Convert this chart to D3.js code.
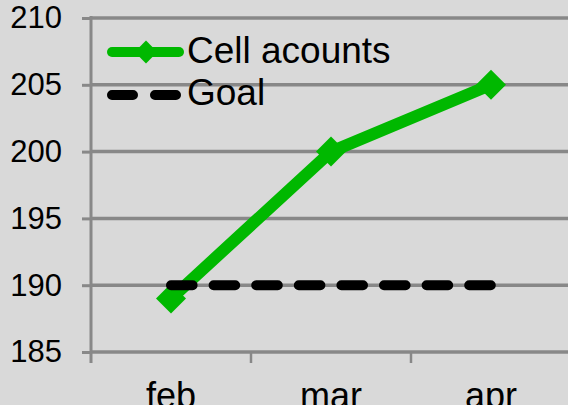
<!DOCTYPE html>
<html><head><meta charset="utf-8">
<script src="https://cdn.jsdelivr.net/npm/d3@7"></script>
<style>body{margin:0;background:#d9d9d9;}svg{display:block;}</style>
</head><body>
<script>
const categories = ["feb", "mar", "apr"];
const cellAccounts = [189, 200, 205];
const goal = [190, 190, 190];
const yTicks = [185, 190, 195, 200, 205, 210];
const seriesNames = ["Cell acounts", "Goal"];

(function () {
const W = 568, H = 405;
const svg = d3.select("body").append("svg").attr("width", W).attr("height", H)
  .style("font-family", "'Liberation Sans', Arial, sans-serif");
svg.append("rect").attr("width", W).attr("height", H).attr("fill", "#d9d9d9");

const pL = 91, pR = 571, pT = 18, pB = 352;
const x = d3.scaleBand().domain(categories).range([pL, pR]);
const y = d3.scaleLinear().domain([185, 210]).range([pB, pT]);
const gridCol = "#888888";

// gridlines
svg.append("g").selectAll("line").data(yTicks).join("line")
  .attr("x1", pL).attr("x2", W).attr("y1", d => y(d)).attr("y2", d => y(d))
  .attr("stroke", gridCol).attr("stroke-width", 3.5);

// y axis
const yAxis = svg.append("g").attr("transform", `translate(${pL},0)`)
  .call(d3.axisLeft(y).tickValues(yTicks).tickSize(9).tickPadding(20).tickFormat(d3.format("d")));
yAxis.select(".domain").remove();
yAxis.selectAll(".tick line").attr("stroke", gridCol).attr("stroke-width", 3);
yAxis.selectAll("text").attr("font-size", 31).attr("fill", "#000").attr("font-family", "'Liberation Sans', Arial, sans-serif");
svg.append("line").attr("x1", pL).attr("x2", pL).attr("y1", pT - 2).attr("y2", pB + 11)
  .attr("stroke", gridCol).attr("stroke-width", 3);

// x axis ticks at band boundaries
const bounds = categories.map(c => x(c)).concat([x(categories[categories.length - 1]) + x.bandwidth()]);
svg.append("g").selectAll("line").data(bounds.slice(1)).join("line")
  .attr("x1", d => d).attr("x2", d => d).attr("y1", pB).attr("y2", pB + 11)
  .attr("stroke", gridCol).attr("stroke-width", 2.5);
svg.append("g").selectAll("text").data(categories).join("text")
  .attr("x", d => x(d) + x.bandwidth() / 2).attr("y", 408)
  .attr("text-anchor", "middle").attr("font-size", 36).attr("fill", "#000").text(d => d);

const cx = c => x(c) + x.bandwidth() / 2;
const green = "#00b800";

// Cell accounts line
svg.append("path").datum(cellAccounts)
  .attr("d", d3.line().x((d, i) => cx(categories[i])).y(d => y(d)))
  .attr("fill", "none").attr("stroke", green).attr("stroke-width", 12).attr("stroke-linejoin", "miter");
const diamond = d3.symbol().type(d3.symbolSquare).size(450);
svg.append("g").selectAll("path").data(cellAccounts).join("path")
  .attr("d", diamond)
  .attr("transform", (d, i) => `translate(${cx(categories[i])},${y(d)}) rotate(45)`)
  .attr("fill", green);

// Goal line
svg.append("path").datum(goal)
  .attr("d", d3.line().x((d, i) => cx(categories[i])).y(d => y(d)))
  .attr("fill", "none").attr("stroke", "#000").attr("stroke-width", 10)
  .attr("stroke-linecap", "round").attr("stroke-dasharray", "21.6,21");

// Legend
const lg = svg.append("g");
lg.append("line").attr("x1", 112).attr("x2", 179).attr("y1", 52).attr("y2", 52)
  .attr("stroke", green).attr("stroke-width", 10).attr("stroke-linecap", "round");
lg.append("path").attr("d", d3.symbol().type(d3.symbolSquare).size(260))
  .attr("transform", "translate(146,52) rotate(45)").attr("fill", green);
lg.append("line").attr("x1", 112).attr("x2", 178).attr("y1", 95).attr("y2", 95)
  .attr("stroke", "#000").attr("stroke-width", 10).attr("stroke-linecap", "round")
  .attr("stroke-dasharray", "21,22");
lg.selectAll("text").data(seriesNames).join("text")
  .attr("x", 187).attr("y", (d, i) => 63 + i * 42)
  .attr("font-size", 37).attr("fill", "#000").text(d => d);
})();
</script>
</body></html>
